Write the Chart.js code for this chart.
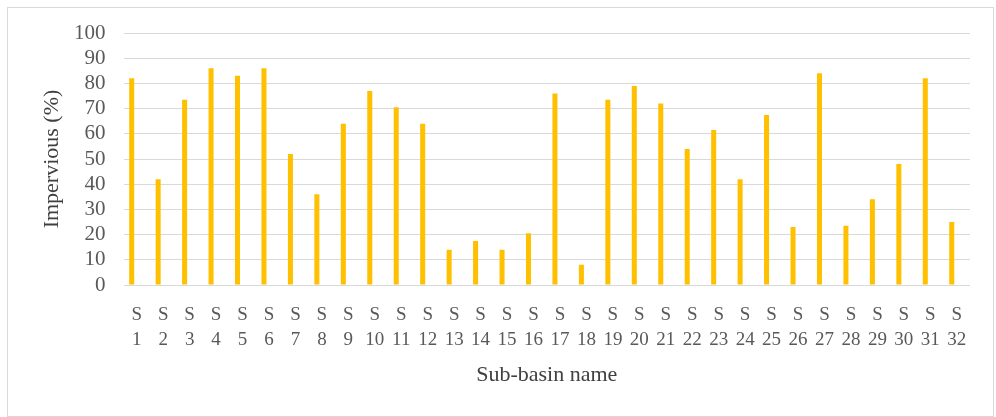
<!DOCTYPE html>
<html>
<head>
<meta charset="utf-8">
<script src="https://cdn.jsdelivr.net/npm/chart.js@4.4.1/dist/chart.umd.min.js"></script>
<style>
    html, body { margin: 0; padding: 0; background: #fff; }
    #frame { position: relative; width: 996px; height: 417px; }
    #frame .border {
        position: absolute;
        left: 7px;
        top: 7px;
        width: 985px;
        height: 408px;
        border: 1px solid #d9d9d9;
    }
    canvas { position: absolute; left: 0; top: 0; }
</style>
</head>
<body>
<div id="frame">
    <div class="border"></div>
    <canvas id="chart" width="996" height="417"></canvas>
</div>
<script>
// sub-basins S1..S32
const subBasins = ['S 1', 'S 2', 'S 3', 'S 4', 'S 5', 'S 6', 'S 7', 'S 8', 'S 9', 'S 10',
    'S 11', 'S 12', 'S 13', 'S 14', 'S 15', 'S 16', 'S 17', 'S 18', 'S 19', 'S 20',
    'S 21', 'S 22', 'S 23', 'S 24', 'S 25', 'S 26', 'S 27', 'S 28', 'S 29', 'S 30',
    'S 31', 'S 32']

// impervious share (%)
const impervious = [82, 42, 73.5, 86, 83, 86, 52, 36, 64, 77,
    70.5, 64, 14, 17.5, 14, 20.5, 76, 8, 73.5, 79,
    72, 54, 61.5, 42, 67.5, 23, 84, 23.5, 34, 48,
    82, 25]

// the original sheet keeps a second, empty series next to each bar
const emptySeries = subBasins.map(() => null)

const yTicks = { min: 0, max: 100, step: 10 }

const serif = "'Liberation Serif', 'Times New Roman', serif"
const gold = '#FFC000'
const gridGray = '#d9d9d9'
const tickGray = '#595959'
const titleGray = '#404040'

const canvas = document.getElementById('chart')
new Chart(canvas, {
    type: 'bar',
    data: {
        labels: subBasins.map(name => name.split(' ')),
        datasets: [
            {
                label: 'Impervious',
                data: impervious,
                backgroundColor: gold,
                borderWidth: 0,
                categoryPercentage: 0.76,
                barPercentage: 0.5,
            },
            {
                label: '',
                data: emptySeries,
                backgroundColor: 'transparent',
                categoryPercentage: 0.76,
                barPercentage: 0.5,
            },
        ],
    },
    options: {
        responsive: false,
        animation: false,
        layout: { padding: { left: 30, right: 26, top: 33, bottom: 20 } },
        plugins: {
            legend: { display: false },
            tooltip: { enabled: false },
        },
        scales: {
            x: {
                grid: { display: false },
                border: { display: false },
                ticks: {
                    autoSkip: false,
                    maxRotation: 0,
                    minRotation: 0,
                    padding: 10,
                    color: tickGray,
                    font: { family: serif, size: 19, lineHeight: 1.3 },
                },
                title: {
                    display: true,
                    text: 'Sub-basin name',
                    color: titleGray,
                    padding: { top: 0, bottom: 9 },
                    font: { family: serif, size: 22, lineHeight: 1.2 },
                },
                afterFit: scale => { scale.height = 112 },
            },
            y: {
                min: yTicks.min,
                max: yTicks.max,
                grid: { color: gridGray, lineWidth: 1, drawTicks: false },
                border: { display: false },
                ticks: {
                    autoSkip: false,
                    stepSize: yTicks.step,
                    padding: 18,
                    color: tickGray,
                    font: { family: serif, size: 21, lineHeight: 1 },
                },
                title: {
                    display: true,
                    text: 'Impervious (%)',
                    color: titleGray,
                    padding: { top: 9, bottom: 0 },
                    font: { family: serif, size: 22, lineHeight: 1.2 },
                },
                afterFit: scale => { scale.width = 93.5 },
            },
        },
    },
})
</script>
</body>
</html>
